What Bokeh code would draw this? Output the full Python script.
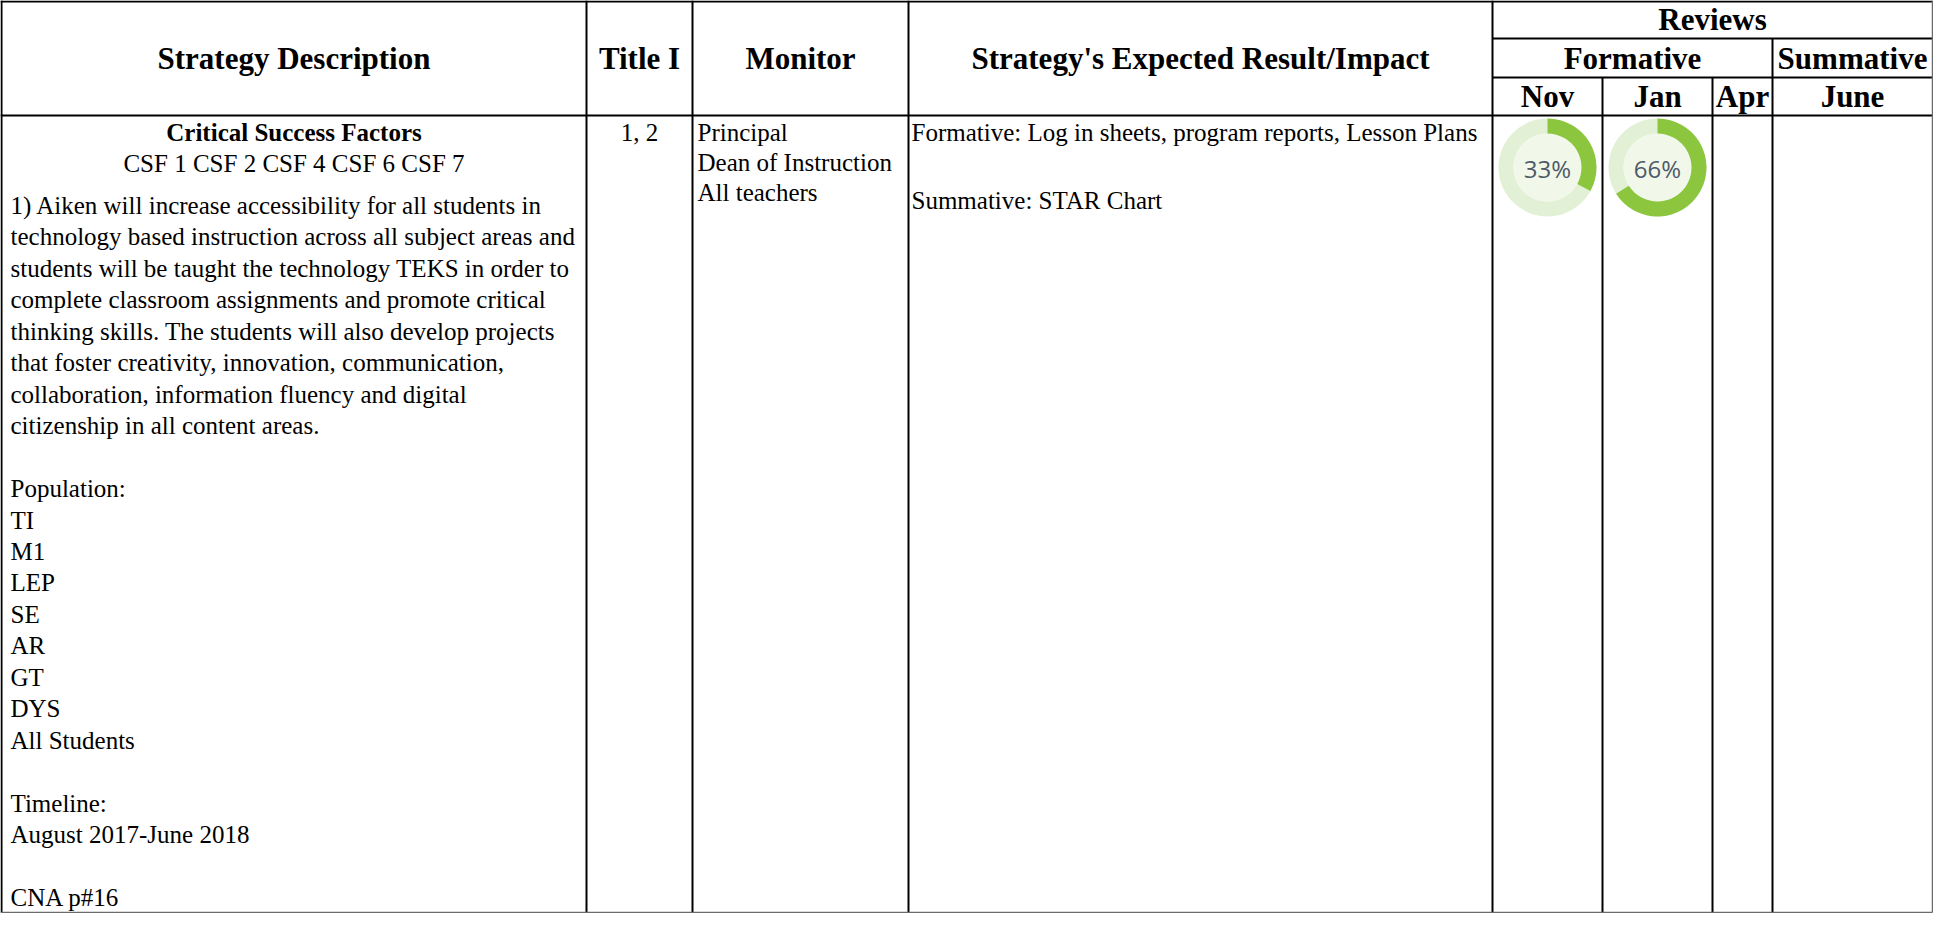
import math
from bokeh.plotting import figure
from bokeh.models import Range1d
from bokeh.core.properties import value
from bokeh.embed import file_html
from bokeh.resources import INLINE

# ---------------- data ----------------
main_headers = ["Strategy Description", "Title I", "Monitor", "Strategy's Expected Result/Impact"]
review_group = "Reviews"
review_kinds = ["Formative", "Summative"]
review_periods = ["Nov", "Jan", "Apr", "June"]
review_pct = [33, 66, None, None]

csf_title = "Critical Success Factors"
csf_list = "CSF 1 CSF 2 CSF 4 CSF 6 CSF 7"
description_lines = [
    "1) Aiken will increase accessibility for all students in",
    "technology based instruction across all subject areas and",
    "students will be taught the technology TEKS in order to",
    "complete classroom assignments and promote critical",
    "thinking skills. The students will also develop projects",
    "that foster creativity, innovation, communication,",
    "collaboration, information fluency and digital",
    "citizenship in all content areas.",
    "",
    "Population:",
    "TI",
    "M1",
    "LEP",
    "SE",
    "AR",
    "GT",
    "DYS",
    "All Students",
    "",
    "Timeline:",
    "August 2017-June 2018",
    "",
    "CNA p#16",
]
title_i_value = "1, 2"
monitors = ["Principal", "Dean of Instruction", "All teachers"]
result_lines = ["Formative: Log in sheets, program reports, Lesson Plans", "Summative: STAR Chart"]

# ---------------- layout (pixels, 1:1) ----------------
W, H = 1933, 913
col_edges = [1, 586, 692, 908, 1492, 1602, 1712, 1772, 1932]
row_reviews, row_kind, row_head = 38, 77, 115
bottom = 912
SERIF = value("Liberation Serif")
SANS = value("Open Sans")
BODY = "25px"
HEAD = "31px"
LINE = 31.45


def Y(v):
    return H - v


p = figure(width=W, height=H, x_range=Range1d(0, W), y_range=Range1d(0, H),
           output_backend="svg", toolbar_location=None, min_border=0)
p.axis.visible = False
p.grid.visible = False
p.outline_line_color = None
p.background_fill_color = "white"
p.border_fill_color = "white"

# ---- grid lines ----
x0, y0, x1, y1 = [], [], [], []
for x in col_edges[:5]:
    x0.append(x); y0.append(Y(0)); x1.append(x); y1.append(Y(bottom))
x0.append(col_edges[7]); y0.append(Y(row_reviews)); x1.append(col_edges[7]); y1.append(Y(bottom))
for x in col_edges[5:7]:
    x0.append(x); y0.append(Y(row_kind)); x1.append(x); y1.append(Y(bottom))
x0.append(0); y0.append(Y(1)); x1.append(col_edges[-1]); y1.append(Y(1))
x0.append(0); y0.append(Y(row_head)); x1.append(col_edges[-1]); y1.append(Y(row_head))
for r in (row_reviews, row_kind):
    x0.append(col_edges[4]); y0.append(Y(r)); x1.append(col_edges[-1]); y1.append(Y(r))
p.segment(x0=x0, y0=y0, x1=x1, y1=y1, line_color="black", line_width=2)
# outer right / bottom border (grey)
p.segment(x0=[col_edges[-1], 0], y0=[Y(0), Y(bottom)], x1=[col_edges[-1], col_edges[-1]],
          y1=[Y(bottom), Y(bottom)], line_color="#6b6b6b", line_width=1.5)


def txt(xs, ys, texts, size, bold=False, align="left", font=SERIF, color="black"):
    p.text(x=xs, y=[Y(v) for v in ys], text=texts, text_font=font,
           text_font_size=size, text_font_style="bold" if bold else "normal",
           text_align=align, text_baseline="middle", text_color=color)


# ---- header ----
centers = [(col_edges[i] + col_edges[i + 1]) / 2 for i in range(4)]
txt(centers, [58] * 4, main_headers, HEAD, bold=True, align="center")
txt([(col_edges[4] + col_edges[-1]) / 2], [19], [review_group], HEAD, bold=True, align="center")
txt([(col_edges[4] + col_edges[7]) / 2, (col_edges[7] + col_edges[8]) / 2], [58, 58],
    review_kinds, HEAD, bold=True, align="center")
pcenters = [(col_edges[i] + col_edges[i + 1]) / 2 for i in range(4, 8)]
txt(pcenters, [96] * 4, review_periods, HEAD, bold=True, align="center")

# ---- body ----
first = 132
txt([centers[0]], [first], [csf_title], BODY, bold=True, align="center")
txt([centers[0]], [first + 31], [csf_list], BODY, align="center")
dl_x, dl_y, dl_t = [], [], []
for i, t in enumerate(description_lines):
    if t:
        dl_x.append(10); dl_y.append(205 + i * LINE); dl_t.append(t)
txt(dl_x, dl_y, dl_t, BODY)
txt([centers[1]], [first], [title_i_value], BODY, align="center")
txt([697] * len(monitors), [first + i * 30 for i in range(len(monitors))], monitors, BODY)
txt([911, 911], [first, 200], result_lines, BODY)

# ---- review donuts ----
r_out, r_in = 49, 34
for cx, pct in zip(pcenters, review_pct):
    if pct is None:
        continue
    cy = Y(167)
    p.annulus(x=[cx], y=[cy], inner_radius=r_in, outer_radius=r_out,
              fill_color="#e2f0d5", line_color=None)
    p.circle(x=[cx], y=[cy], radius=r_in, fill_color="#f1f8ea", line_color=None)
    p.annular_wedge(x=[cx], y=[cy], inner_radius=r_in, outer_radius=r_out,
                    start_angle=[math.pi / 2 - 2 * math.pi * pct / 100],
                    end_angle=[math.pi / 2], direction="anticlock",
                    fill_color="#8cc63e", line_color=None)
    txt([cx], [168], [f"{pct}%"], "24px", font=SANS, align="center", color="#4f5a68")

open("out.html", "w").write(file_html(p, INLINE))
